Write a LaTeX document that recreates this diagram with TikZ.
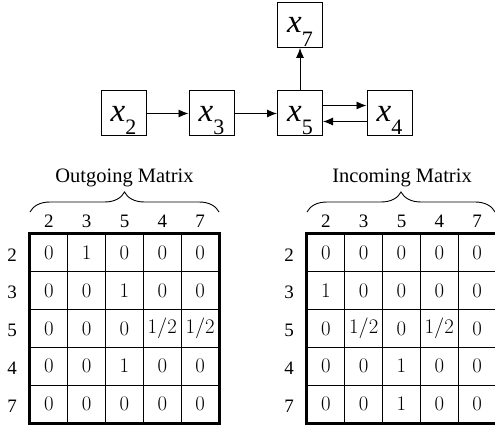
\documentclass[tikz,border=0pt]{standalone}
\usepackage[no-math]{fontspec}
\setmainfont{Liberation Serif}
\usetikzlibrary{arrows.meta,decorations.pathreplacing}
\newcommand{\xv}[1]{\textit{x}\raisebox{-13.5pt}{\fontsize{22}{24}\selectfont #1}}
\begin{document}
\begin{tikzpicture}[x=1pt,y=-1pt,
  vbox/.style={draw,line width=1pt,minimum width=45pt,minimum height=45pt,inner sep=0pt,
    text height=22pt,text depth=6pt,font=\fontsize{33}{36}\selectfont},
  arr/.style={-{Latex[length=10pt,width=8pt]},line width=0.9pt},
  cell/.style={draw,line width=0.9pt,minimum size=37.8pt,inner sep=0pt,font=\fontsize{22}{24}\selectfont},
  lab/.style={font=\fontsize{19}{22}\selectfont,inner sep=0pt},
  ttl/.style={font=\fontsize{20.5}{24}\selectfont,inner sep=0pt},
  outer/.style={line width=2.2pt},
  brc/.style={decorate,decoration={brace,amplitude=20pt},line width=0.9pt}]
\useasboundingbox (0,0) rectangle (495,430);
% graph
\node[vbox] (x2) at (123.5,113.5) {\xv{2}};
\node[vbox] (x3) at (211.5,113.5) {\xv{3}};
\node[vbox] (x5) at (300,113.5) {\xv{5}};
\node[vbox] (x4) at (389.5,113.5) {\xv{4}};
\node[vbox] (x7) at (300,25) {\xv{7}};
\draw[arr] (x2) -- (x3);
\draw[arr] (x3) -- (x5);
\draw[arr] (x5) -- (x7);
\draw[arr] ([yshift=8pt]x5.east) -- ([yshift=8pt]x4.west);
\draw[arr] ([yshift=-8pt]x4.west) -- ([yshift=-8pt]x5.east);
% outgoing matrix
\foreach \row [count=\r] in {{0,1,0,0,0},{0,0,1,0,0},{0,0,0,1/2,1/2},{0,0,1,0,0},{0,0,0,0,0}}{
  \foreach \v [count=\c] in \row {
    \node[cell] (o-\r-\c) at ({30+18.9+37.8*(\c-1)},{234+18.9+37.8*(\r-1)}) {$\v$};
  }
}
\foreach \rr/\lbl in {1/2,2/3,3/5,4/4,5/7}{
  \node[lab] (or\rr) at (12,{236+18.9+37.8*(\rr-1)}) {\lbl};
  \node[lab] (oc\rr) at ({30+18.9+37.8*(\rr-1)},221) {\lbl};
}
\draw[outer] (o-1-1.north west) rectangle (o-5-5.south east);
\draw[brc] (30,212) -- (219,212);
\node[ttl] (otitle) at (124.5,178) {Outgoing Matrix};
% incoming matrix
\foreach \row [count=\r] in {{0,0,0,0,0},{1,0,0,0,0},{0,1/2,0,1/2,0},{0,0,1,0,0},{0,0,1,0,0}}{
  \foreach \v [count=\c] in \row {
    \node[cell] (i-\r-\c) at ({307+18.9+37.8*(\c-1)},{234+18.9+37.8*(\r-1)}) {$\v$};
  }
}
\foreach \rr/\lbl in {1/2,2/3,3/5,4/4,5/7}{
  \node[lab] (ir\rr) at (289,{236+18.9+37.8*(\rr-1)}) {\lbl};
  \node[lab] (ic\rr) at ({307+18.9+37.8*(\rr-1)},221) {\lbl};
}
\draw[outer] (i-1-1.north west) rectangle (i-5-5.south east);
\draw[brc] (307,212) -- (495,212);
\node[ttl] (ititle) at (402,178) {Incoming Matrix};
\end{tikzpicture}
\end{document}
